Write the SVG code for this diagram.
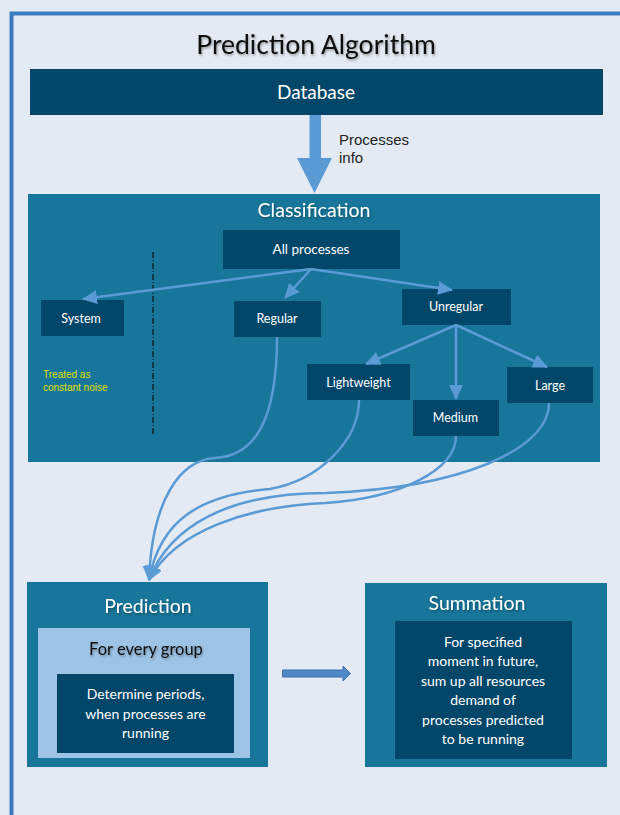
<svg xmlns="http://www.w3.org/2000/svg" width="620" height="815" viewBox="0 0 620 815">
<defs>
<style>
.dark{fill:#02476a}
.teal{fill:#17769a}
.cal{font-family:Lato,"Open Sans","Liberation Sans",sans-serif;text-anchor:middle;fill:#fff}
.conn{fill:none;stroke:#5b9bd5;stroke-width:2.5}
.sm{font-size:12.5px}
</style>
<marker id="ah" markerUnits="userSpaceOnUse" markerWidth="16" markerHeight="16" refX="14" refY="8" orient="auto" viewBox="0 0 16 16">
<path d="M0,1 L15,8 L0,15 Z" fill="#5b9bd5"/>
</marker>
<filter id="sh" x="-10%" y="-20%" width="120%" height="150%">
<feDropShadow dx="1" dy="1.5" stdDeviation="1" flood-color="#000" flood-opacity="0.35"/>
</filter>
</defs>
<rect x="0" y="0" width="620" height="815" fill="#e3eaf3"/>
<path d="M11.5,815 V13.5 H620" fill="none" stroke="#3b7bbf" stroke-width="4"/>

<g id="title">
<text x="316" y="54" class="cal" style="fill:#111;font-size:26.5px" filter="url(#sh)">Prediction Algorithm</text>
</g>

<g id="database">
<rect x="30" y="69" width="573" height="46" class="dark"/>
<text x="316" y="99" class="cal" style="font-size:19px">Database</text>
</g>

<g id="db-arrow">
<path d="M309.5,115 H321 V158 H332 L314.5,193 L297,158 H309.5 Z" fill="#5b9bd5"/>
<text font-family="Liberation Sans,Arial,sans-serif" font-size="15" fill="#222"><tspan x="339" y="145">Processes</tspan><tspan x="339" y="163">info</tspan></text>
</g>

<g id="classification">
<rect x="28" y="194" width="572" height="268" class="teal"/>
<text x="314" y="217" class="cal" style="font-size:19.5px" filter="url(#sh)">Classification</text>
</g>

<g id="all-processes">
<rect x="223" y="230" width="177" height="39" class="dark"/>
<text x="311" y="254" class="cal" style="font-size:13.5px">All processes</text>
</g>
<g id="system">
<rect x="41" y="300" width="83" height="36" class="dark"/>
<text x="81" y="323" class="cal sm">System</text>
</g>
<g id="regular">
<rect x="234" y="301" width="87" height="36" class="dark"/>
<text x="277" y="323" class="cal sm">Regular</text>
</g>
<g id="unregular">
<rect x="402" y="289" width="109" height="36" class="dark"/>
<text x="456" y="311" class="cal sm">Unregular</text>
</g>
<g id="lightweight">
<rect x="307" y="364" width="103" height="36" class="dark"/>
<text x="358.5" y="387" class="cal sm">Lightweight</text>
</g>
<g id="medium">
<rect x="413" y="400" width="86" height="36" class="dark"/>
<text x="455.5" y="422" class="cal sm">Medium</text>
</g>
<g id="large">
<rect x="507" y="367" width="86" height="36" class="dark"/>
<text x="550" y="390" class="cal sm">Large</text>
</g>
<g id="noise-note">
<text font-family="Liberation Sans,Arial,sans-serif" font-size="10" fill="#e0e000"><tspan x="43" y="378">Treated as</tspan><tspan x="43" y="391">constant noise</tspan></text>
</g>
<g id="divider">
<line x1="153" y1="252" x2="153" y2="434" stroke="#111" stroke-width="1.2" stroke-dasharray="6,2,1,2"/>
</g>

<g id="prediction">
<rect x="27" y="582" width="241" height="185" class="teal"/>
<text x="148" y="613" class="cal" style="font-size:19.5px" filter="url(#sh)">Prediction</text>
<rect x="38" y="628" width="212" height="130" fill="#9dc3e6"/>
<text x="146" y="655" class="cal" style="fill:#111;font-size:16.5px" filter="url(#sh)">For every group</text>
<rect x="57" y="674" width="177" height="79" class="dark"/>
<text class="cal" style="font-size:14px"><tspan x="145.5" y="699">Determine periods,</tspan><tspan x="145.5" y="719">when processes are</tspan><tspan x="145.5" y="738">running</tspan></text>
</g>

<g id="summation">
<rect x="365" y="583" width="242" height="184" class="teal"/>
<text x="477" y="610" class="cal" style="font-size:19.5px" filter="url(#sh)">Summation</text>
<rect x="395" y="621" width="177" height="138" class="dark"/>
<text class="cal" style="font-size:14px"><tspan x="483" y="647">For specified</tspan><tspan x="483" y="666">moment in future,</tspan><tspan x="483" y="686">sum up all resources</tspan><tspan x="483" y="705">demand of</tspan><tspan x="483" y="725">processes predicted</tspan><tspan x="483" y="744">to be running</tspan></text>
</g>

<g id="connectors">
<line x1="311" y1="269" x2="83" y2="299" class="conn" marker-end="url(#ah)"/>
<line x1="311" y1="269" x2="285" y2="298" class="conn" marker-end="url(#ah)"/>
<line x1="311" y1="269" x2="452" y2="290" class="conn" marker-end="url(#ah)"/>
<line x1="456" y1="325" x2="366" y2="364" class="conn" marker-end="url(#ah)"/>
<line x1="456" y1="325" x2="456" y2="399" class="conn" marker-end="url(#ah)"/>
<line x1="456" y1="325" x2="547" y2="367" class="conn" marker-end="url(#ah)"/>
<path d="M277,337 C277,420 255,456 215,458 C180,460 152,500 149,580" class="conn" marker-end="url(#ah)"/>
<path d="M359,400 C359,440 320,480 270,489 C200,495 160,520 149,580" class="conn" marker-end="url(#ah)"/>
<path d="M456,436 C456,470 400,498 326,503 C250,506 175,530 149,580" class="conn" marker-end="url(#ah)"/>
<path d="M549,403 C549,450 460,488 326,493 C230,493 170,525 149,580" class="conn" marker-end="url(#ah)"/>
<path d="M282.5,670 H343 V666 L350.5,673.5 L343,681 V677 H282.5 Z" fill="#4f88c6" stroke="#3d6ea6" stroke-width="1"/>
</g>
</svg>
